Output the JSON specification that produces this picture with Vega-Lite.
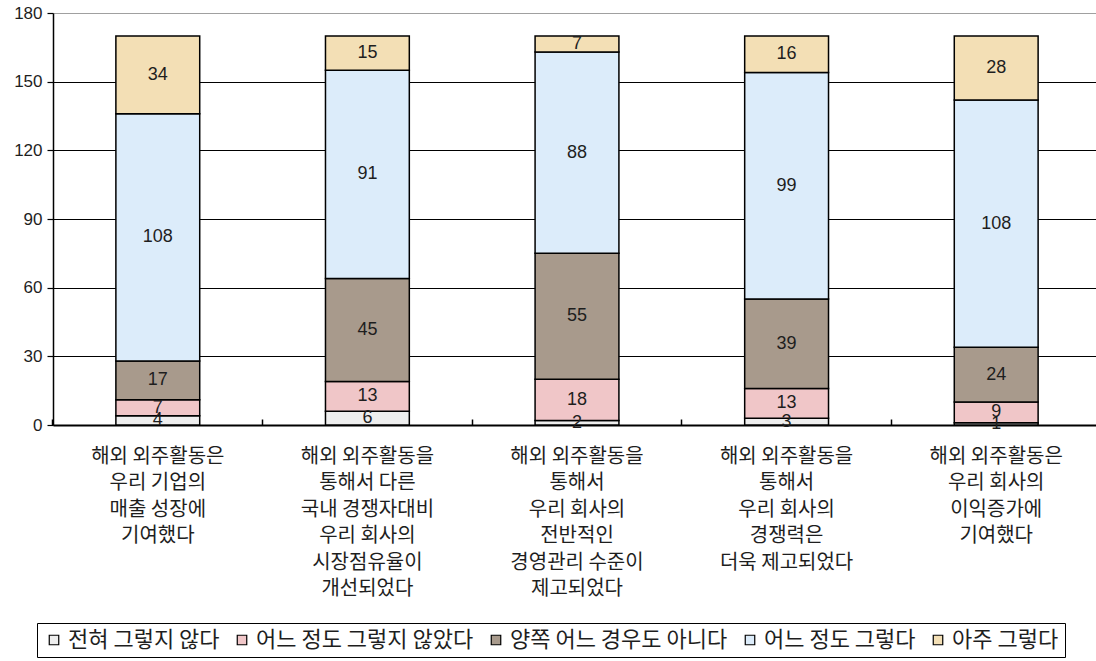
{
  "$schema": "https://vega.github.io/schema/vega-lite/v6.json",
  "width": 1043,
  "height": 412,
  "autosize": "none",
  "padding": {"left": 53, "top": 13, "right": 0, "bottom": 236},
  "background": "white",
  "config": {
    "view": {"stroke": null},
    "font": "Liberation Sans"
  },
  "data": {
    "values": [
      {"item": "해외 외주활동은\n우리 기업의\n매출 성장에\n기여했다", "response": "전혀 그렇지 않다", "score": 1, "count": 4},
      {"item": "해외 외주활동은\n우리 기업의\n매출 성장에\n기여했다", "response": "어느 정도 그렇지 않았다", "score": 2, "count": 7},
      {"item": "해외 외주활동은\n우리 기업의\n매출 성장에\n기여했다", "response": "양쪽 어느 경우도 아니다", "score": 3, "count": 17},
      {"item": "해외 외주활동은\n우리 기업의\n매출 성장에\n기여했다", "response": "어느 정도 그렇다", "score": 4, "count": 108},
      {"item": "해외 외주활동은\n우리 기업의\n매출 성장에\n기여했다", "response": "아주 그렇다", "score": 5, "count": 34},
      {"item": "해외 외주활동을\n통해서 다른\n국내 경쟁자대비\n우리 회사의\n시장점유율이\n개선되었다", "response": "전혀 그렇지 않다", "score": 1, "count": 6},
      {"item": "해외 외주활동을\n통해서 다른\n국내 경쟁자대비\n우리 회사의\n시장점유율이\n개선되었다", "response": "어느 정도 그렇지 않았다", "score": 2, "count": 13},
      {"item": "해외 외주활동을\n통해서 다른\n국내 경쟁자대비\n우리 회사의\n시장점유율이\n개선되었다", "response": "양쪽 어느 경우도 아니다", "score": 3, "count": 45},
      {"item": "해외 외주활동을\n통해서 다른\n국내 경쟁자대비\n우리 회사의\n시장점유율이\n개선되었다", "response": "어느 정도 그렇다", "score": 4, "count": 91},
      {"item": "해외 외주활동을\n통해서 다른\n국내 경쟁자대비\n우리 회사의\n시장점유율이\n개선되었다", "response": "아주 그렇다", "score": 5, "count": 15},
      {"item": "해외 외주활동을\n통해서\n우리 회사의\n전반적인\n경영관리 수준이\n제고되었다", "response": "전혀 그렇지 않다", "score": 1, "count": 2},
      {"item": "해외 외주활동을\n통해서\n우리 회사의\n전반적인\n경영관리 수준이\n제고되었다", "response": "어느 정도 그렇지 않았다", "score": 2, "count": 18},
      {"item": "해외 외주활동을\n통해서\n우리 회사의\n전반적인\n경영관리 수준이\n제고되었다", "response": "양쪽 어느 경우도 아니다", "score": 3, "count": 55},
      {"item": "해외 외주활동을\n통해서\n우리 회사의\n전반적인\n경영관리 수준이\n제고되었다", "response": "어느 정도 그렇다", "score": 4, "count": 88},
      {"item": "해외 외주활동을\n통해서\n우리 회사의\n전반적인\n경영관리 수준이\n제고되었다", "response": "아주 그렇다", "score": 5, "count": 7},
      {"item": "해외 외주활동을\n통해서\n우리 회사의\n경쟁력은\n더욱 제고되었다", "response": "전혀 그렇지 않다", "score": 1, "count": 3},
      {"item": "해외 외주활동을\n통해서\n우리 회사의\n경쟁력은\n더욱 제고되었다", "response": "어느 정도 그렇지 않았다", "score": 2, "count": 13},
      {"item": "해외 외주활동을\n통해서\n우리 회사의\n경쟁력은\n더욱 제고되었다", "response": "양쪽 어느 경우도 아니다", "score": 3, "count": 39},
      {"item": "해외 외주활동을\n통해서\n우리 회사의\n경쟁력은\n더욱 제고되었다", "response": "어느 정도 그렇다", "score": 4, "count": 99},
      {"item": "해외 외주활동을\n통해서\n우리 회사의\n경쟁력은\n더욱 제고되었다", "response": "아주 그렇다", "score": 5, "count": 16},
      {"item": "해외 외주활동은\n우리 회사의\n이익증가에\n기여했다", "response": "전혀 그렇지 않다", "score": 1, "count": 1},
      {"item": "해외 외주활동은\n우리 회사의\n이익증가에\n기여했다", "response": "어느 정도 그렇지 않았다", "score": 2, "count": 9},
      {"item": "해외 외주활동은\n우리 회사의\n이익증가에\n기여했다", "response": "양쪽 어느 경우도 아니다", "score": 3, "count": 24},
      {"item": "해외 외주활동은\n우리 회사의\n이익증가에\n기여했다", "response": "어느 정도 그렇다", "score": 4, "count": 108},
      {"item": "해외 외주활동은\n우리 회사의\n이익증가에\n기여했다", "response": "아주 그렇다", "score": 5, "count": 28}
    ]
  },
  "transform": [
    {"stack": "count", "groupby": ["item"], "sort": [{"field": "score", "order": "ascending"}], "as": ["lo", "hi"]},
    {"calculate": "(datum.lo + datum.hi) / 2", "as": "mid"}
  ],
  "layer": [
    {
      "mark": {"type": "bar", "stroke": "black", "strokeWidth": 1.5},
      "encoding": {
        "x": {
          "field": "item", "type": "nominal", "sort": null,
          "scale": {"range": [0, 1048], "paddingInner": 0.6, "paddingOuter": 0.3},
          "axis": {
            "title": null, "labelAngle": 0,
            "bandPosition": -0.75, "ticks": true, "tickSize": -6, "tickColor": "black", "tickWidth": 1.5,
            "labelExpr": "split(datum.label, '\\n')",
            "labelFont": "Noto Sans CJK KR", "labelFontSize": 20, "labelColor": "#1e1e1e",
            "labelLineHeight": 26.5, "labelPadding": 27, "labelLimit": 300,
            "domainColor": "black", "domainWidth": 2
          }
        },
        "y": {
          "field": "lo", "type": "quantitative",
          "scale": {"domain": [0, 180]},
          "axis": {
            "title": null, "values": [0, 30, 60, 90, 120, 150, 180],
            "labelFont": "Liberation Sans", "labelFontSize": 17, "labelColor": "#1e1e1e",
            "labelPadding": 5, "tickColor": "black", "tickSize": 6, "tickWidth": 1.2,
            "domainColor": "black", "domainWidth": 1.5,
            "grid": true, "gridWidth": 1,
            "gridColor": {"condition": {"test": "datum.value === 180", "value": "#a0a0a0"}, "value": "black"}
          }
        },
        "y2": {"field": "hi"},
        "color": {
          "field": "response", "type": "nominal",
          "scale": {
            "domain": ["전혀 그렇지 않다", "어느 정도 그렇지 않았다", "양쪽 어느 경우도 아니다", "어느 정도 그렇다", "아주 그렇다"],
            "range": ["#eeeeee", "#f0c6c8", "#a89a8c", "#dcecfa", "#f3dfb5"]
          },
          "legend": {
            "title": null, "orient": "none", "direction": "horizontal", "columns": 5,
            "legendX": -16, "legendY": 610,
            "strokeColor": "black", "padding": 6, "columnPadding": 11,
            "symbolType": "square", "symbolSize": 90, "symbolStrokeColor": "black", "symbolStrokeWidth": 1.2,
            "symbolOpacity": 1,
            "labelFont": "Noto Sans CJK KR", "labelFontSize": 22, "labelColor": "#1e1e1e", "labelOffset": 3,
            "labelLimit": 400, "fillColor": "white"
          }
        }
      }
    },
    {
      "mark": {"type": "text", "font": "Liberation Sans", "fontSize": 18, "color": "#1e1e1e", "baseline": "middle"},
      "encoding": {
        "x": {"field": "item", "type": "nominal", "sort": null},
        "y": {"field": "mid", "type": "quantitative"},
        "text": {"field": "count", "type": "quantitative"}
      }
    }
  ]
}
